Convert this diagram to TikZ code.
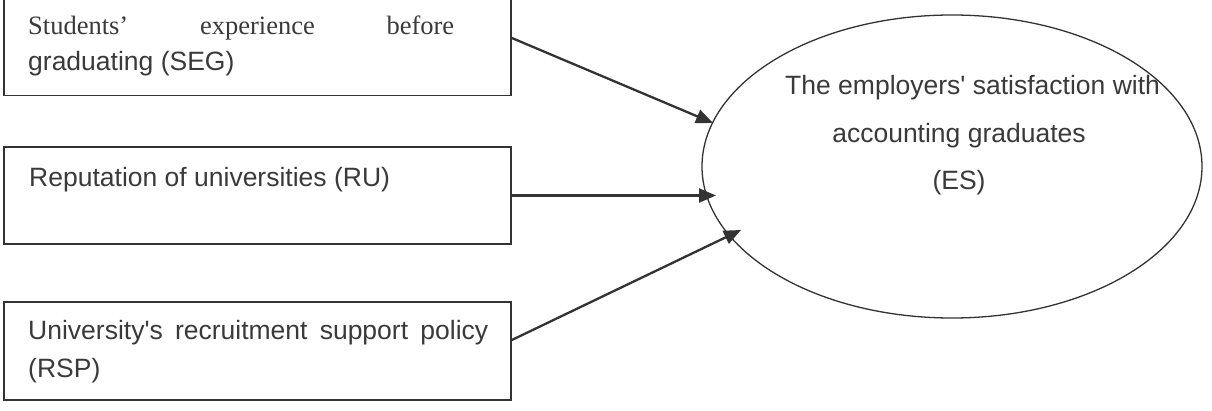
\documentclass[tikz,border=0pt]{standalone}
\usepackage{fontspec}
\setmainfont{Liberation Sans}[Ligatures=TeXOff]
\newfontfamily\timesfont{Liberation Serif}
\usetikzlibrary{arrows.meta,shapes.geometric}
\definecolor{ink}{HTML}{333333}
\definecolor{txt}{HTML}{3A3A3A}
\tikzset{
  factorbox/.style={draw=ink, line width=1.7pt, inner sep=0pt, minimum width=507pt},
  outcome/.style={ellipse, draw=ink, line width=1.3pt, inner sep=0pt, minimum width=500pt, minimum height=303pt},
  lbl/.style={anchor=base west, inner sep=0pt, text=txt, font=\fontsize{26.5pt}{30pt}\selectfont},
  clbl/.style={anchor=base, inner sep=0pt, text=txt, font=\fontsize{26.5pt}{30pt}\selectfont},
  arr/.style={draw=ink, line width=2.3pt, -{Triangle[length=17pt,width=14pt]}}
}
\begin{document}
\begin{tikzpicture}[x=1pt,y=-1pt]
\useasboundingbox[fill=white] (0,0) rectangle (1212,411);
% boxes
\node[factorbox, minimum height=100pt] (b1) at (257.5,45.5) {};
\node[factorbox, minimum height=97pt] (b2) at (257.5,195.5) {};
\node[factorbox, minimum height=98pt] (b3) at (257.5,351) {};
% ellipse
\node[outcome] (es) at (952,166.5) {};
% box texts
\node[lbl] (t1a) at (28,34.5) {\timesfont\makebox[426pt][s]{Students’ experience before}};
\node[lbl] (t1b) at (28,71) {graduating (SEG)};
\node[lbl] (t2) at (29,187) {Reputation of universities (RU)};
\node[lbl] (t3a) at (28,340) {\makebox[460pt][s]{University's recruitment support policy}};
\node[lbl] (t3b) at (28,377) {(RSP)};
% ellipse texts
\node[lbl] (e1) at (785,95) {The employers' satisfaction with};
\node[clbl] (e2) at (959,143) {accounting graduates};
\node[clbl] (e3) at (959,190) {(ES)};
% arrow ends
\coordinate (h1) at (713,123);
\coordinate (h2) at (716,195.5);
\coordinate (h3) at (741,230);
\draw[arr] ([yshift=7.5pt]b1.east) -- (h1);
\draw[arr] (b2.east) -- (h2);
\draw[arr] ([yshift=11pt]b3.east) -- (h3);
\end{tikzpicture}
\end{document}
